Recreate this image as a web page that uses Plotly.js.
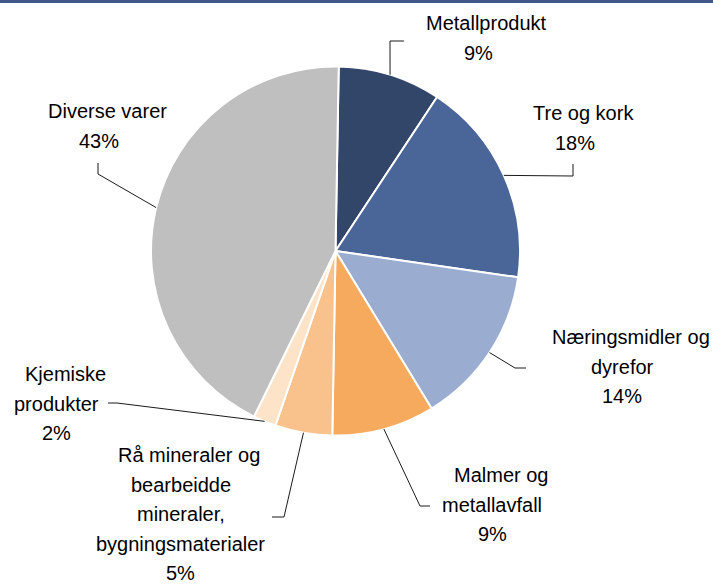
<!DOCTYPE html>
<html>
<head>
<meta charset="utf-8">
<script src="https://cdn.plot.ly/plotly-3.0.1.min.js"></script>
<style>
html, body { margin: 0; padding: 0; background: #ffffff; }
#chart { width: 713px; height: 585px; }
</style>
</head>
<body>
<div id="chart"></div>
<script>
// ---- data ----
const categories = [
  "Metallprodukt",
  "Tre og kork",
  "Næringsmidler og<br>dyrefor",
  "Malmer og<br>metallavfall",
  "Rå mineraler og<br>bearbeidde<br>mineraler,<br>bygningsmaterialer",
  "Kjemiske<br>produkter",
  "Diverse varer"
];
const shares = [9, 18, 14, 9, 5, 2, 43];
const sliceColors = ["#324669", "#4A6699", "#9AADD0", "#F6AA5E", "#F9C18C", "#FDE3C8", "#BFBFBF"];

// ---- layout (pixels) ----
const W = 713, H = 585;
const pieGeom = { cx: 335.5, cy: 251, r: 184.5, rotation: 1 };
const lineGap = 29.5;
const firstLineShift = 8.5;
const labelLayout = [
  { cx: 478,   y: 23,  path: [[390, 41], [404, 41]] },
  { cx: 574.5, y: 113, path: [[573, 176], [573, 164]] },
  { cx: 622,   y: 337, path: [[515, 368], [526, 368]] },
  { cx: 492,   y: 475, path: [[420, 506], [430, 506]] },
  { cx: 180.5, y: 455, path: [[284, 517], [272, 517]] },
  { cx: 56.5,  y: 374, path: [[117, 403], [108, 403]] },
  { cx: 99,    y: 111, path: [[98, 174], [98, 163]] }
];

const px = x => x / W;
const py = y => 1 - y / H;

const total = shares.reduce((a, b) => a + b, 0);

const trace = {
  type: "pie",
  labels: categories,
  values: shares,
  sort: false,
  direction: "clockwise",
  rotation: pieGeom.rotation,
  textinfo: "none",
  hoverinfo: "none",
  showlegend: false,
  marker: { colors: sliceColors, line: { color: "#ffffff", width: 2 } },
  domain: {
    x: [px(pieGeom.cx - pieGeom.r), px(pieGeom.cx + pieGeom.r)],
    y: [py(pieGeom.cy + pieGeom.r), py(pieGeom.cy - pieGeom.r)]
  }
};

const annotations = [];
const shapes = [
  { type: "rect", xref: "paper", yref: "paper", x0: 0, x1: 1, y0: py(3), y1: 1,
    fillcolor: "#41598A", line: { width: 0 } }
];

const font = { family: "Liberation Sans, Arial, sans-serif", size: 20, color: "#000000" };

let cum = 0;
shares.forEach((v, i) => {
  const midFrac = (cum + v / 2) / total;
  cum += v;
  const ang = (pieGeom.rotation + midFrac * 360) * Math.PI / 180;
  const sx = pieGeom.cx + pieGeom.r * Math.sin(ang);
  const sy = pieGeom.cy - pieGeom.r * Math.cos(ang);
  const L = labelLayout[i];
  let d = "M " + px(sx) + " " + py(sy);
  L.path.forEach(p => { d += " L " + px(p[0]) + " " + py(p[1]); });
  shapes.push({ type: "path", xref: "paper", yref: "paper", path: d,
    line: { color: "#1a1a1a", width: 1 } });

  const lines = categories[i].split("<br>");
  lines.push(Math.round(v / total * 100) + "%");
  lines.forEach((t, k) => {
    annotations.push({
      xref: "paper", yref: "paper",
      x: px(L.cx), y: py(L.y + k * lineGap),
      xshift: k === 0 ? firstLineShift : 0,
      xanchor: "center", yanchor: "middle",
      text: t, showarrow: false, font: font
    });
  });
});

const layout = {
  width: W, height: H,
  margin: { l: 0, r: 0, t: 0, b: 0 },
  paper_bgcolor: "#ffffff",
  plot_bgcolor: "#ffffff",
  shapes: shapes,
  annotations: annotations
};

Plotly.newPlot("chart", [trace], layout, { displayModeBar: false, staticPlot: true });
</script>
</body>
</html>
